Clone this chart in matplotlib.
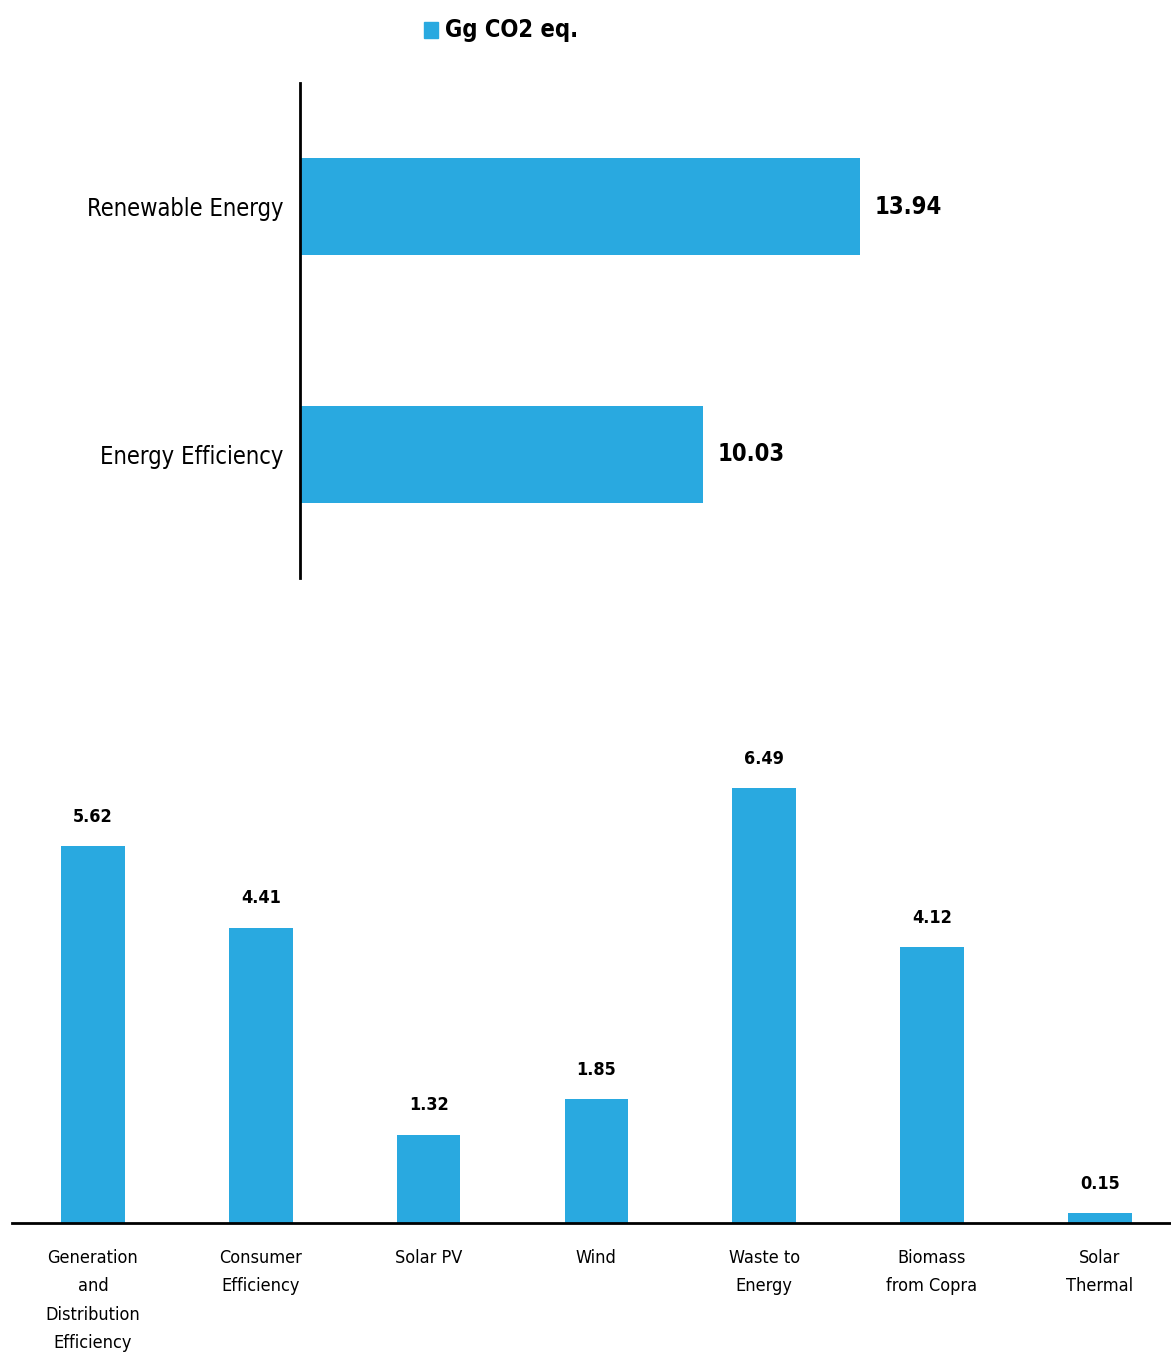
import matplotlib
matplotlib.use("Agg")
import matplotlib.pyplot as plt
from matplotlib.patches import Rectangle

plt.rcParams['font.family'] = ['DejaVu Sans']
plt.rcParams['font.stretch'] = 'condensed'

# Summary by category
summary_labels = ["Energy Efficiency", "Renewable Energy"]
summary_values = [10.03, 13.94]

# Breakdown by measure
measure_labels = [
    "Generation\nand\nDistribution\nEfficiency",
    "Consumer\nEfficiency",
    "Solar PV",
    "Wind",
    "Waste to\nEnergy",
    "Biomass\nfrom Copra",
    "Solar\nThermal",
]
measure_values = [5.62, 4.41, 1.32, 1.85, 6.49, 4.12, 0.15]

legend_label = "Gg CO2 eq."
BLUE = "#29A9E0"

W, H = 1171, 1359
fig = plt.figure(figsize=(W / 100, H / 100), dpi=100)

def box(x0, y0, x1, y1):
    return [x0 / W, 1 - y1 / H, (x1 - x0) / W, (y1 - y0) / H]

# --- top: horizontal bars ---
ax1 = fig.add_axes(box(300, 83, 1171, 578))
ax1.barh(range(len(summary_values)), summary_values, height=0.39, color=BLUE)
ax1.set_ylim(-0.5, 1.5)
ax1.set_xlim(0, 871 / 40.2)
ax1.set_yticks(range(len(summary_labels)))
ax1.set_yticklabels(summary_labels, fontsize=17)
ax1.tick_params(axis='y', length=0, pad=12)
ax1.set_xticks([])
for s in ["top", "right", "bottom"]:
    ax1.spines[s].set_visible(False)
ax1.spines["left"].set_linewidth(2)
for i, v in enumerate(summary_values):
    ax1.text(v + 0.35, i, f"{v:.2f}", va="center", ha="left",
             fontsize=17, fontweight="bold")

# legend
fig.patches.append(Rectangle((424 / W, 1 - 38 / H), 14 / W, 16 / H,
                             transform=fig.transFigure, color=BLUE))
fig.text(445 / W, 1 - 30 / H, legend_label, fontsize=17, fontweight="bold",
         va="center", ha="left")

# --- bottom: vertical bars ---
ax2 = fig.add_axes(box(12, 700, 1170, 1223))
x = range(len(measure_values))
ax2.bar(x, measure_values, width=0.38, color=BLUE)
ax2.set_ylim(0, 523 / 67.0)
ax2.set_xlim((12 - 93) / 167.8, (1170 - 93) / 167.8)
ax2.set_xticks(list(x))
ax2.set_xticklabels(measure_labels, fontsize=13, linespacing=1.72, va="top")
ax2.tick_params(axis='x', length=0, pad=19)
ax2.set_yticks([])
for s in ["top", "right", "left"]:
    ax2.spines[s].set_visible(False)
ax2.spines["bottom"].set_linewidth(2)
for i, v in zip(x, measure_values):
    ax2.text(i, v + 0.3, f"{v:.2f}", ha="center", va="bottom",
             fontsize=13, fontweight="bold")

fig.savefig("out.png", dpi=100)
